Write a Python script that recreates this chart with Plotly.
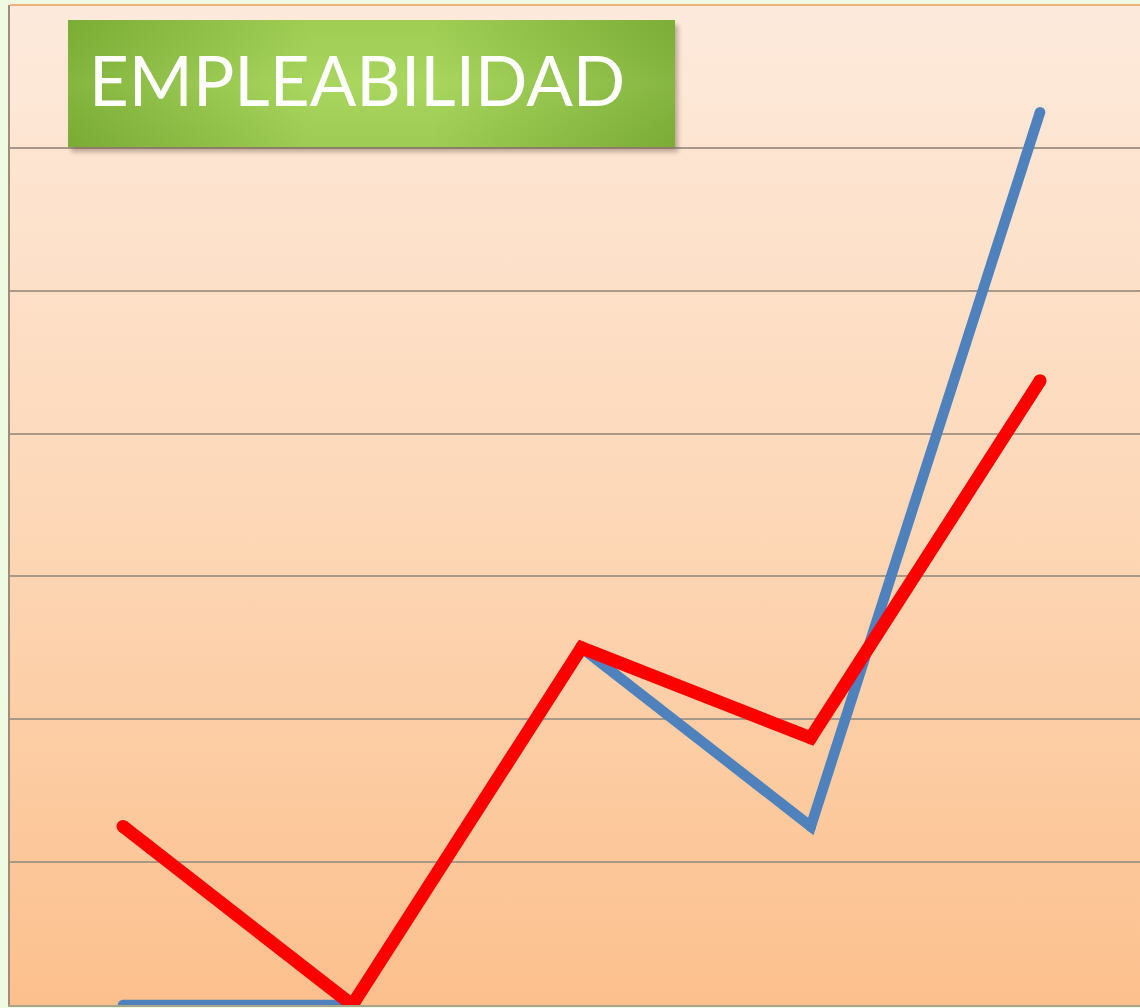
import base64
import plotly.graph_objects as go

# ---- data ----
categories = ["P1", "P2", "P3", "P4", "P5"]
serie_azul = [0.0, 0.0, 2.5, 1.25, 6.25]
serie_roja = [1.25, 0.0, 2.5, 1.87, 4.37]
y_ticks = [0, 1, 2, 3, 4, 5, 6, 7]
titulo = "EMPLEABILIDAD"


def svg_uri(svg):
    return "data:image/svg+xml;base64," + base64.b64encode(svg.encode("utf-8")).decode("ascii")


bg_svg = """<svg xmlns='http://www.w3.org/2000/svg' width='100' height='100' preserveAspectRatio='none'>
<defs><linearGradient id='g' x1='0' y1='0' x2='0' y2='1'>
<stop offset='0' stop-color='#FDEADC'/>
<stop offset='0.5' stop-color='#FDD8B8'/>
<stop offset='1' stop-color='#FCC08D'/>
</linearGradient></defs>
<rect width='100' height='100' fill='url(#g)'/></svg>"""

box_svg = """<svg xmlns='http://www.w3.org/2000/svg' width='620' height='140'>
<defs>
<linearGradient id='h' x1='0' y1='0' x2='1' y2='0'>
<stop offset='0' stop-color='#7FB236'/>
<stop offset='0.4' stop-color='#A4D457'/>
<stop offset='0.6' stop-color='#A4D457'/>
<stop offset='1' stop-color='#80B338'/>
</linearGradient>
<linearGradient id='v' x1='0' y1='0' x2='0' y2='1'>
<stop offset='0' stop-color='#000' stop-opacity='0.03'/>
<stop offset='0.5' stop-color='#fff' stop-opacity='0.05'/>
<stop offset='1' stop-color='#000' stop-opacity='0.04'/>
</linearGradient>
<filter id='s' x='-5%' y='-5%' width='110%' height='120%'><feGaussianBlur stdDeviation='2.5'/></filter>
</defs>
<rect x='3' y='5' width='607' height='127' fill='#6d5a45' opacity='0.45' filter='url(#s)'/>
<rect x='0' y='0' width='607' height='127' fill='url(#h)'/>
<rect x='0' y='0' width='607' height='127' fill='url(#v)'/>
</svg>"""

BLUE_W, RED_W = 10.5, 13

fig = go.Figure()
fig.add_trace(go.Scatter(x=categories, y=serie_azul, mode="lines+markers",
                         line=dict(color="#4F81BD", width=BLUE_W),
                         marker=dict(color="#4F81BD", size=BLUE_W, line=dict(width=0)),
                         showlegend=False, hoverinfo="skip"))
fig.add_trace(go.Scatter(x=categories, y=serie_roja, mode="lines+markers",
                         line=dict(color="#FF0000", width=RED_W),
                         marker=dict(color="#FF0000", size=RED_W, line=dict(width=0)),
                         showlegend=False, hoverinfo="skip"))

W, H = 1140, 1008
L, R, T, B = 10, 0, 5, 3
pw = W - L - R
ph = H - T - B

fig.update_layout(
    width=W, height=H,
    margin=dict(l=L, r=R, t=T, b=B, pad=0),
    paper_bgcolor="#EEFBE2",
    plot_bgcolor="rgba(0,0,0,0)",
    xaxis=dict(type="category", range=[-0.493, 4.436], showticklabels=False,
               showgrid=False, zeroline=False, showline=True, linecolor="#A8A58A",
               linewidth=2, ticks=""),
    yaxis=dict(range=[0, 7], tickvals=y_ticks[1:-1], showticklabels=False,
               showgrid=True, gridcolor="#A89888", gridwidth=1.5, zeroline=False,
               showline=True, linecolor="#A08C7A", linewidth=2, ticks=""),
    images=[
        dict(source=svg_uri(bg_svg), xref="paper", yref="paper", x=0, y=1,
             sizex=1, sizey=1, sizing="stretch", layer="below",
             xanchor="left", yanchor="top"),
        dict(source=svg_uri(box_svg), xref="paper", yref="paper",
             x=(68 - L) / pw, y=1 - (20 - T) / ph,
             sizex=620 / pw, sizey=140 / ph, sizing="stretch", layer="above",
             xanchor="left", yanchor="top"),
    ],
    shapes=[
        dict(type="line", xref="paper", yref="paper", x0=0, x1=1, y0=1, y1=1,
             line=dict(color="#F2B07C", width=2)),
    ],
    annotations=[
        dict(text=titulo, xref="paper", yref="paper",
             x=(357 - L) / pw, y=1 - (80 - T) / ph, xanchor="center", yanchor="middle",
             showarrow=False, font=dict(family="Lato", size=69, color="white")),
    ],
)

fig.write_html("out.html", config={"displayModeBar": False},
               post_script="document.body.style.margin='0';document.body.style.overflow='hidden';")
